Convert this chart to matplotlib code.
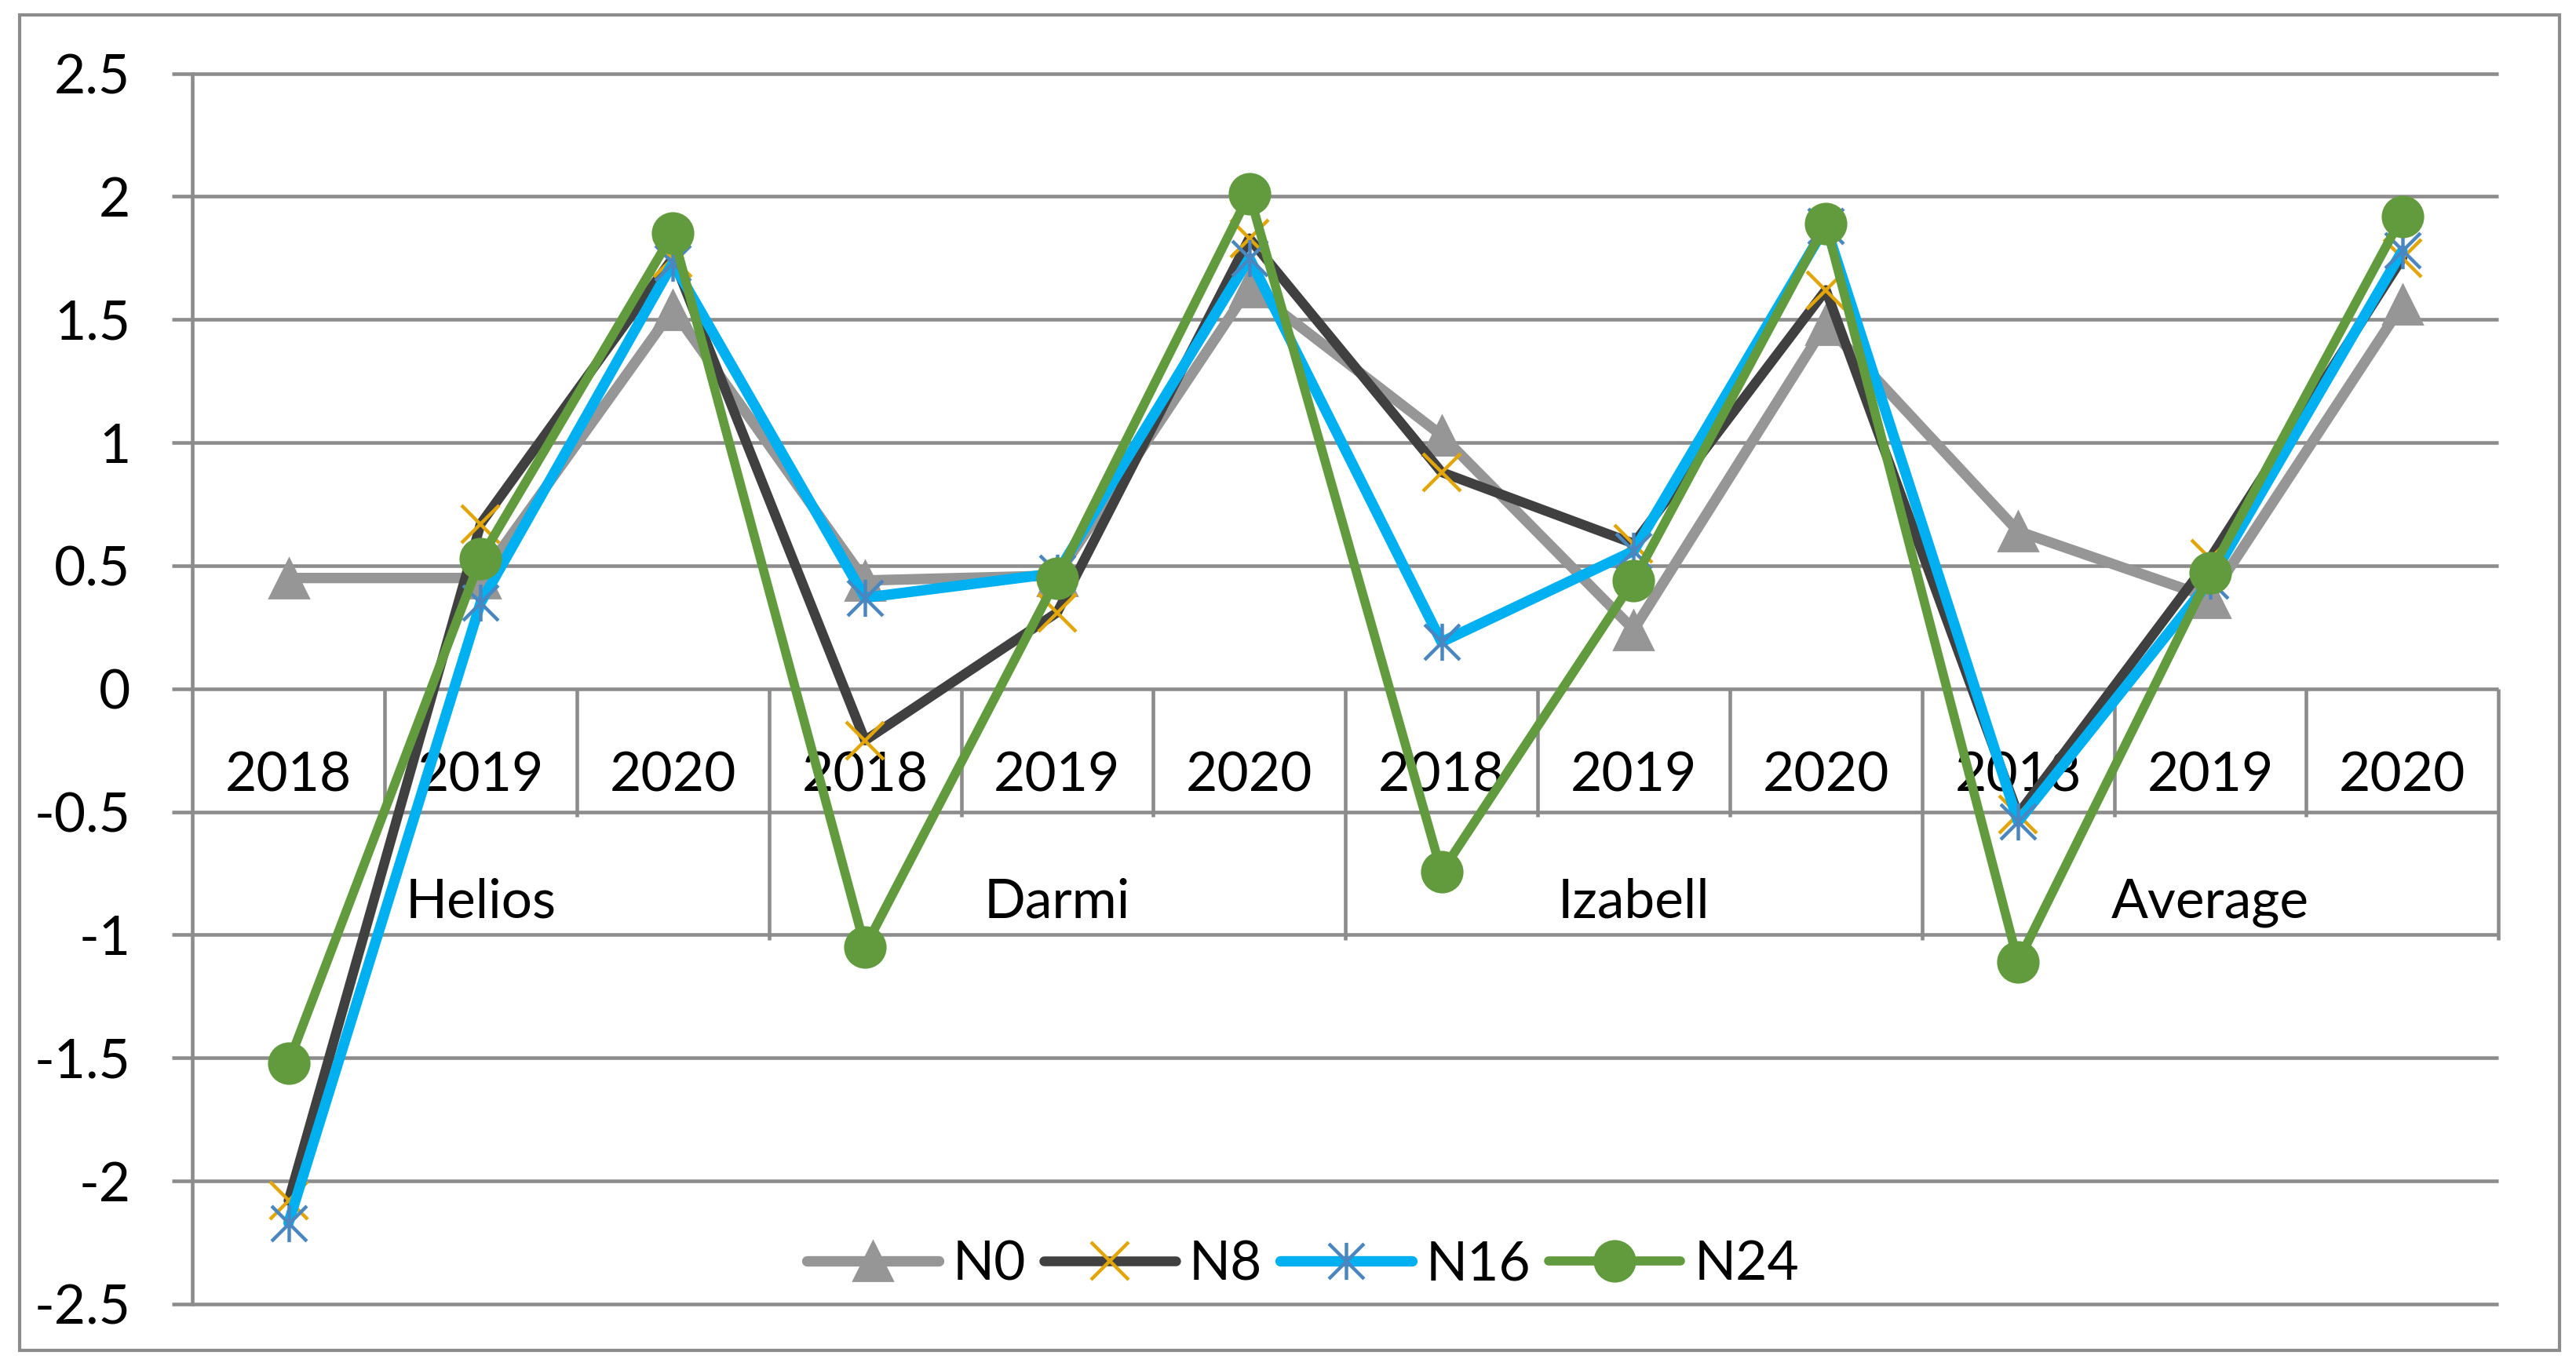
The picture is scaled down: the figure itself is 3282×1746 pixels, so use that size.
import numpy as np
import matplotlib.pyplot as plt
from matplotlib.path import Path
from matplotlib.patches import Rectangle

plt.rcParams['font.family'] = ['Lato', 'DejaVu Sans']

# category axis: year inside each cultivar group
years = ['2018', '2019', '2020'] * 4
groups = ['Helios', 'Darmi', 'Izabell', 'Average']

# series values
n0 = [0.45, 0.45, 1.54, 0.44, 0.46, 1.63, 1.03, 0.24, 1.48, 0.64, 0.37, 1.56]
n8 = [-2.08, 0.67, 1.75, -0.21, 0.31, 1.83, 0.88, 0.59, 1.62, -0.51, 0.53, 1.75]
n16 = [-2.17, 0.35, 1.73, 0.37, 0.47, 1.75, 0.19, 0.56, 1.88, -0.54, 0.44, 1.78]
n24 = [-1.52, 0.53, 1.85, -1.05, 0.45, 2.01, -0.745, 0.44, 1.89, -1.11, 0.47, 1.92]

yticks = [2.5, 2, 1.5, 1, 0.5, 0, -0.5, -1, -1.5, -2, -2.5]
ytick_labels = ['2.5', '2', '1.5', '1', '0.5', '0', '-0.5', '-1', '-1.5', '-2', '-2.5']

grid_col = '#8c8c8c'
fs = 25

# excel style asterisk marker
ast = Path([(0, -1), (0, 1), (-0.95, -0.95), (0.95, 0.95), (-0.95, 0.95), (0.95, -0.95)],
           [Path.MOVETO, Path.LINETO, Path.MOVETO, Path.LINETO, Path.MOVETO, Path.LINETO])

fig = plt.figure(figsize=(16.41, 8.73), dpi=200)
ax = fig.add_axes([0.0747, 0.0481, 0.8952, 0.8983])

x = np.arange(len(years))
ax.set_xlim(-0.5, len(years) - 0.5)
ax.set_ylim(-2.5, 2.5)

# gridlines
ax.hlines(yticks, -0.5, len(years) - 0.5, colors=grid_col, lw=1.65, zorder=1, clip_on=False)

# multi-level category separators drawn at y=0
for i in range(1, len(years) + 1):
    b = i - 0.5
    if i % 3 == 0:
        ax.vlines(b, -1.02, 0, colors=grid_col, lw=1.65, zorder=1, clip_on=False)
    else:
        ax.vlines(b, -0.52, 0, colors=grid_col, lw=1.65, zorder=1, clip_on=False)

for i, yr in enumerate(years):
    ax.text(i, -0.417, yr, ha='center', va='baseline', fontsize=fs, zorder=2)
for g, name in enumerate(groups):
    ax.text(3 * g + 1, -0.93, name, ha='center', va='baseline', fontsize=fs, zorder=2)

common = dict(solid_joinstyle='round', solid_capstyle='round')
ax.plot(x, n0, color='#969696', lw=4.8, marker='^', ms=18, mfc='#969696', mec='#969696',
        mew=1, label='N0', zorder=3, **common)
ax.plot(x, n8, color='#404040', lw=4.5, marker='x', ms=17, mec='#E2A60A', mew=1.6,
        label='N8', zorder=4, **common)
ax.plot(x, n16, color='#00B0F0', lw=4.8, marker=ast, ms=17, mec='#4A86C0', mfc='none',
        mew=1.6, label='N16', zorder=5, **common)
ax.plot(x, n24, color='#629A3E', lw=4.2, marker='o', ms=18.5, mfc='#629A3E', mec='#629A3E',
        mew=1, label='N24', zorder=6, **common)

ax.set_xticks([])
ax.set_yticks(yticks)
ax.set_yticklabels(ytick_labels)
ax.tick_params(axis='y', length=9.4, width=1.65, color=grid_col, pad=19, labelsize=fs)
for s in ['top', 'right', 'bottom']:
    ax.spines[s].set_visible(False)
ax.spines['left'].set_color(grid_col)
ax.spines['left'].set_linewidth(1.65)

ax.legend(loc='center', bbox_to_anchor=(0.4816, 0.032), ncol=4, frameon=False,
          fontsize=fs, handlelength=2.42, handletextpad=0.25, columnspacing=0.33,
          numpoints=1, borderaxespad=0)

# outer chart border
fig.patches.append(Rectangle((24.5 / 3282, 0.0143), (3261 - 24.5) / 3282, 0.9748,
                             transform=fig.transFigure, fill=False, ec=grid_col, lw=1.5))

fig.savefig('out.png', dpi=200)
